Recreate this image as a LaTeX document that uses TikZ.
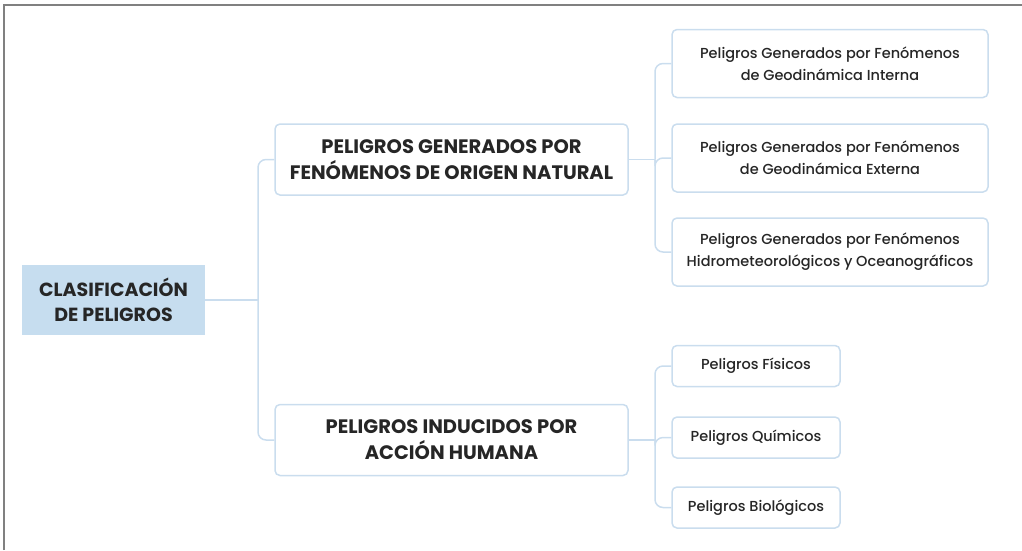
\documentclass[tikz,border=0pt]{standalone}
\usepackage{fontspec}
\setmainfont{Poppins}
\newfontfamily\leaffont{Poppins}[UprightFont=* Medium]
\usepackage{tikz}
\usetikzlibrary{positioning}
\definecolor{lineblue}{HTML}{CADDEE}
\definecolor{rootfill}{HTML}{C6DDEF}
\definecolor{inkgray}{HTML}{262626}
\tikzstyle{root} = [rectangle, fill=rootfill, minimum width=183pt, minimum height=70pt, align=center, text=inkgray, font=\bfseries\fontsize{19}{25}\selectfont]
\tikzstyle{branch} = [rectangle, rounded corners=5pt, draw=lineblue, line width=1.5pt, fill=white, minimum width=353pt, minimum height=71pt, align=center, text=inkgray, font=\bfseries\fontsize{19.5}{26}\selectfont]
\tikzstyle{leaf} = [rectangle, rounded corners=5pt, draw=lineblue, line width=1.5pt, fill=white, minimum width=316pt, minimum height=68pt, align=center, text=inkgray, font=\leaffont\fontsize{14.5}{22}\selectfont]
\tikzstyle{smallleaf} = [leaf, minimum width=168pt, minimum height=41pt]
\tikzstyle{link} = [draw=lineblue, line width=1.5pt, rounded corners=8pt]

\begin{document}
\begin{tikzpicture}[x=1pt, y=-1pt]
\useasboundingbox (0,0) rectangle (1022,550);
% frame
\draw [gray, line width=1.5pt] (4,550) -- (4,5) -- (1022,5);

\node (root) [root] at (113.5,300) {CLASIFICACIÓN\\DE PELIGROS};

\node (natural) [branch] at (451.5,159.5) {PELIGROS GENERADOS POR\\FENÓMENOS DE ORIGEN NATURAL};
\node (humana) [branch] at (451.5,440) {PELIGROS INDUCIDOS POR\\ACCIÓN HUMANA};

\node (interna) [leaf] at (830,63.5) {Peligros Generados por Fenómenos\\de Geodinámica Interna};
\node (externa) [leaf] at (830,158) {Peligros Generados por Fenómenos\\de Geodinámica Externa};
\node (hidro) [leaf] at (830,252) {Peligros Generados por Fenómenos\\Hidrometeorológicos y Oceanográficos};

\node (fisicos) [smallleaf] at (756,366) {Peligros Físicos};
\node (quimicos) [smallleaf] at (756,437.5) {Peligros Químicos};
\node (biologicos) [smallleaf] at (756,507.5) {Peligros Biológicos};

% connectors
\coordinate (rootbus) at (258,300);
\coordinate (natbus) at (655,159.5);
\coordinate (humbus) at (655,440);

\draw [link] (root.east) -- (rootbus);
\draw [link] (rootbus) |- (natural.west);
\draw [link] (rootbus) |- (humana.west);

\draw [link] (natural.east) -- (natbus);
\draw [link] (natbus) |- (interna.west);
\draw [link] (natbus) |- (externa.west);
\draw [link] (natbus) |- (hidro.west);

\draw [link] (humana.east) -- (humbus);
\draw [link] (humbus) |- (fisicos.west);
\draw [link] (humbus) |- (quimicos.west);
\draw [link] (humbus) |- (biologicos.west);

\end{tikzpicture}
\end{document}
